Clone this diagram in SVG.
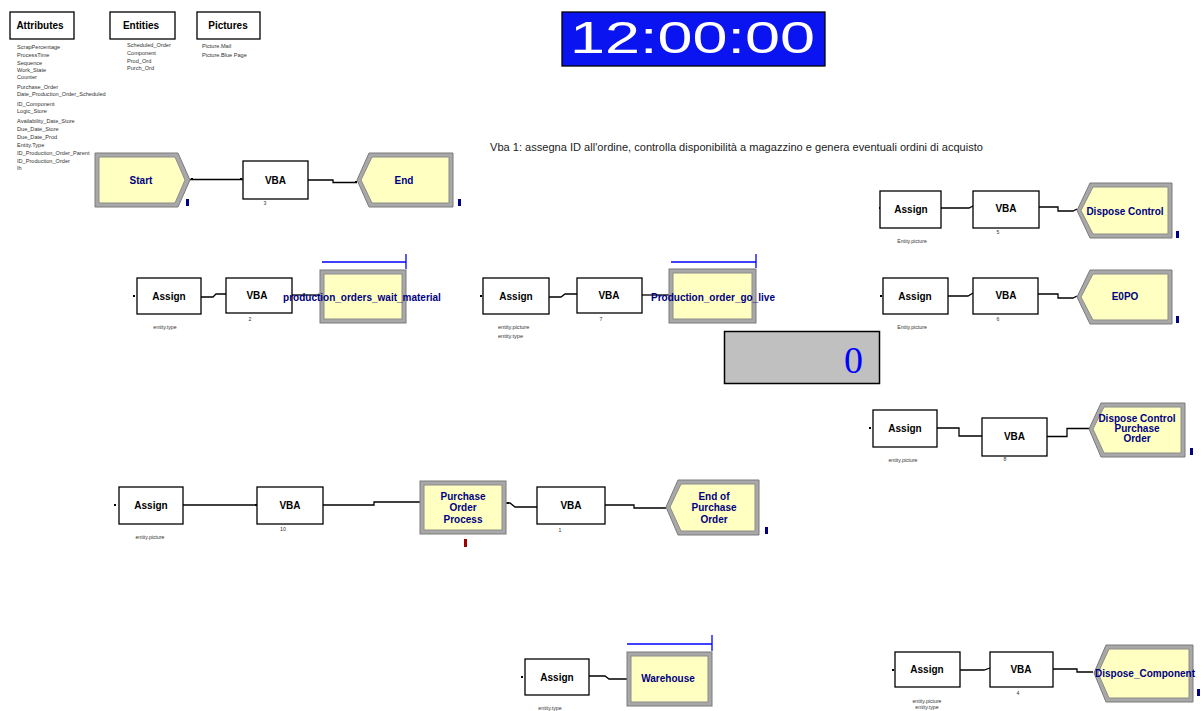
<svg xmlns="http://www.w3.org/2000/svg" width="1204" height="711" viewBox="0 0 1204 711">
  <style>
    .bg { fill: #ffffff; }
    .box { fill: #ffffff; stroke: #000000; stroke-width: 1.3; }
    .lbl { font-family: "Liberation Sans", Arial, sans-serif; font-size: 10px; font-weight: bold; fill: #000000; text-anchor: middle; }
    .mod-outer { fill: #a8a8a8; stroke: #7a7a7a; stroke-width: 1; }
    .mod-inner { fill: #ffffc2; stroke: #8c8c8c; stroke-width: 1; }
    .mlbl { font-family: "Liberation Sans", Arial, sans-serif; font-size: 10px; font-weight: bold; fill: #000080; text-anchor: middle; }
    .tiny { font-family: "Liberation Sans", Arial, sans-serif; font-size: 5.6px; fill: #333333; }
    .tinyc { font-family: "Liberation Sans", Arial, sans-serif; font-size: 5.2px; fill: #333333; text-anchor: middle; }
    .conn { fill: none; stroke: #000000; stroke-width: 1.3; }
    .queue { fill: none; stroke: #0000ff; stroke-width: 1.3; }
    .mark { fill: #000080; }
    .dot { fill: #000000; }
    .hdr { font-family: "Liberation Sans", Arial, sans-serif; font-size: 10px; font-weight: bold; fill: #000000; text-anchor: middle; }
  </style>

  <rect class="bg" x="0" y="0" width="1204" height="711"/>

  <!-- Element lists -->
  <g id="attributes">
    <rect class="box" x="10" y="12" width="64" height="27"/>
    <text class="hdr" x="40" y="29">Attributes</text>
    <text class="tiny" x="17" y="49">ScrapPercentage</text>
    <text class="tiny" x="17" y="57">ProcessTime</text>
    <text class="tiny" x="17" y="65">Sequence</text>
    <text class="tiny" x="17" y="72">Work_State</text>
    <text class="tiny" x="17" y="79">Counter</text>
    <text class="tiny" x="17" y="89">Purchase_Order</text>
    <text class="tiny" x="17" y="96">Date_Production_Order_Scheduled</text>
    <text class="tiny" x="17" y="106">ID_Component</text>
    <text class="tiny" x="17" y="113">Logic_Store</text>
    <text class="tiny" x="17" y="123">Availability_Date_Store</text>
    <text class="tiny" x="17" y="131">Due_Date_Store</text>
    <text class="tiny" x="17" y="139">Due_Date_Prod</text>
    <text class="tiny" x="17" y="147">Entity.Type</text>
    <text class="tiny" x="17" y="155">ID_Production_Order_Parent</text>
    <text class="tiny" x="17" y="163">ID_Production_Order</text>
    <text class="tiny" x="17" y="170">Ih</text>
  </g>

  <g id="entities">
    <rect class="box" x="110" y="12" width="65" height="27"/>
    <text class="hdr" x="141" y="29">Entities</text>
    <text class="tiny" x="127" y="47">Scheduled_Order</text>
    <text class="tiny" x="127" y="55">Component</text>
    <text class="tiny" x="127" y="63">Prod_Ord</text>
    <text class="tiny" x="127" y="70">Purch_Ord</text>
  </g>

  <g id="pictures">
    <rect class="box" x="197" y="12" width="63" height="27"/>
    <text class="hdr" x="228" y="29">Pictures</text>
    <text class="tiny" x="202" y="48">Picture.Mail</text>
    <text class="tiny" x="202" y="57">Picture.Blue Page</text>
  </g>

  <!-- Simulation clock -->
  <g id="clock">
    <rect x="562" y="12" width="263" height="54" fill="#0a14f0" stroke="#000000" stroke-width="1.3"/>
    <text x="570" y="53" font-family="'Liberation Sans', Arial, sans-serif" font-size="45" fill="#ffffff" textLength="245" lengthAdjust="spacingAndGlyphs">12:00:00</text>
  </g>

  <g id="note">
    <text x="490" y="151" font-family="'Liberation Sans', Arial, sans-serif" font-size="10" fill="#222222" textLength="493" lengthAdjust="spacingAndGlyphs">Vba 1: assegna ID all'ordine, controlla disponibilità a magazzino e genera eventuali ordini di acquisto</text>
  </g>

  <!-- Variable display -->
  <g id="counter">
    <rect x="724.5" y="331.5" width="155" height="52" fill="#c0c0c0" stroke="#000000" stroke-width="1.5"/>
    <text x="853.5" y="373" font-family="'Liberation Serif', 'Times New Roman', serif" font-size="38" fill="#0000ff" text-anchor="middle">0</text>
  </g>

  <!-- Connectors -->
  <g id="connectors">
    <path class="conn" d="M190,179.5 H243"/>
    <path class="conn" d="M308,180 H333 V182.5 H357"/>

    <path class="conn" d="M201,297 H213 L216,294 H226"/>
    <path class="conn" d="M292,295 H321"/>

    <path class="conn" d="M549,297 H561 L565,294 H577"/>
    <path class="conn" d="M642,295 H670"/>

    <path class="conn" d="M939,208 H969 L973,206"/>
    <path class="conn" d="M1039,207 H1058 V211 H1073 L1077,209"/>

    <path class="conn" d="M948,296 H968 L973,293"/>
    <path class="conn" d="M1038,294 H1058 V298 H1073 L1077,296"/>

    <path class="conn" d="M937,428 H959 V436 H982"/>
    <path class="conn" d="M1047,436.5 H1067 V428.5 H1090"/>

    <path class="conn" d="M183,505 H257"/>
    <path class="conn" d="M323,505 H374 V502 H420"/>
    <path class="conn" d="M506,503 H510 L515,507 H537"/>
    <path class="conn" d="M605,505 H634 V508 H666"/>

    <path class="conn" d="M589,676 H605 L609,679 H627"/>

    <path class="conn" d="M960,670 H984 L990,668"/>
    <path class="conn" d="M1053,669 H1077 V672 H1093"/>

    <!-- entry points -->
    <rect class="dot" x="191" y="178" width="2" height="2"/>
    <rect class="dot" x="240" y="178" width="2" height="2"/>
    <rect class="dot" x="355" y="181" width="2" height="2"/>
    <rect class="dot" x="133" y="295" width="2" height="2"/>
    <rect class="dot" x="480" y="295" width="2" height="2"/>
    <rect class="dot" x="879" y="207" width="2" height="2"/>
    <rect class="dot" x="880" y="295" width="2" height="2"/>
    <rect class="dot" x="869" y="427" width="2" height="2"/>
    <rect class="dot" x="114" y="504" width="2" height="2"/>
    <rect class="dot" x="255" y="504" width="2" height="2"/>
    <rect class="dot" x="507" y="502" width="2" height="2"/>
    <rect class="dot" x="521" y="676" width="2" height="2"/>
    <rect class="dot" x="892" y="669" width="2" height="2"/>
  </g>

  <!-- Row 1 -->
  <g id="start">
    <polygon class="mod-outer" points="95,153 178,153 190,180 178,207 95,207"/>
    <polygon class="mod-inner" points="99,157 175,157 185,180 175,203 99,203"/>
    <text class="mlbl" x="141" y="184">Start</text>
    <rect class="mark" x="186" y="199" width="3" height="7"/>
  </g>

  <g id="vba3">
    <rect class="box" x="243" y="161" width="65" height="38"/>
    <text class="lbl" x="275.5" y="184">VBA</text>
    <text class="tinyc" x="265" y="205">3</text>
  </g>

  <g id="end">
    <polygon class="mod-outer" points="369,153 453,153 453,207 369,207 357,180"/>
    <polygon class="mod-inner" points="372,157 449,157 449,203 372,203 361,180"/>
    <text class="mlbl" x="404" y="184">End</text>
    <rect class="mark" x="458" y="199" width="3" height="7"/>
  </g>

  <!-- Row 2, left -->
  <g id="assign-type">
    <rect class="box" x="137" y="278" width="64" height="36"/>
    <text class="lbl" x="169" y="300">Assign</text>
    <text class="tinyc" x="165" y="329">entity.type</text>
  </g>
  <g id="vba2">
    <rect class="box" x="226" y="278" width="66" height="35"/>
    <text class="lbl" x="257" y="299">VBA</text>
    <text class="tinyc" x="250" y="321">2</text>
  </g>
  <g id="hold-wait-material">
    <line class="queue" x1="322" y1="262" x2="406" y2="262"/>
    <line class="queue" x1="406" y1="254" x2="406" y2="269"/>
    <rect class="mod-outer" x="320" y="270" width="86" height="53"/>
    <rect class="mod-inner" x="324" y="274" width="78" height="45"/>
    <text class="mlbl" x="362" y="301">production_orders_wait_material</text>
  </g>

  <!-- Row 2, middle -->
  <g id="assign-picture-type">
    <rect class="box" x="483" y="278" width="66" height="36"/>
    <text class="lbl" x="516" y="300">Assign</text>
    <text class="tiny" x="498" y="329">entity.picture</text>
    <text class="tiny" x="498" y="338">entity.type</text>
  </g>
  <g id="vba7">
    <rect class="box" x="577" y="278" width="65" height="35"/>
    <text class="lbl" x="609" y="299">VBA</text>
    <text class="tinyc" x="601" y="321">7</text>
  </g>
  <g id="hold-go-live">
    <line class="queue" x1="671" y1="262" x2="756" y2="262"/>
    <line class="queue" x1="756" y1="254" x2="756" y2="268"/>
    <rect class="mod-outer" x="669" y="269" width="87" height="54"/>
    <rect class="mod-inner" x="673" y="273" width="79" height="46"/>
    <text class="mlbl" x="713" y="301">Production_order_go_live</text>
  </g>

  <!-- Right column -->
  <g id="assign-dispose-control">
    <rect class="box" x="880" y="191" width="61" height="37"/>
    <text class="lbl" x="911" y="213">Assign</text>
    <text class="tinyc" x="912" y="243">Entity.picture</text>
  </g>
  <g id="vba5">
    <rect class="box" x="973" y="191" width="66" height="37"/>
    <text class="lbl" x="1006" y="212">VBA</text>
    <text class="tinyc" x="998" y="234">5</text>
  </g>
  <g id="dispose-control">
    <polygon class="mod-outer" points="1090,183 1172,183 1172,238 1090,238 1077,210.5"/>
    <polygon class="mod-inner" points="1093,187 1168,187 1168,234 1093,234 1081,210.5"/>
    <text class="mlbl" x="1125" y="215">Dispose Control</text>
    <rect class="mark" x="1176" y="231" width="3" height="7"/>
  </g>

  <g id="assign-eopo">
    <rect class="box" x="883" y="278" width="65" height="36"/>
    <text class="lbl" x="915" y="300">Assign</text>
    <text class="tinyc" x="912" y="329">Entity.picture</text>
  </g>
  <g id="vba6">
    <rect class="box" x="973" y="278" width="65" height="36"/>
    <text class="lbl" x="1006" y="299">VBA</text>
    <text class="tinyc" x="998" y="321">6</text>
  </g>
  <g id="dispose-eopo">
    <polygon class="mod-outer" points="1090,270 1172,270 1172,324 1090,324 1077,297"/>
    <polygon class="mod-inner" points="1093,274 1168,274 1168,320 1093,320 1081,297"/>
    <text class="mlbl" x="1125" y="300">E0PO</text>
    <rect class="mark" x="1176" y="316" width="3" height="7"/>
  </g>

  <g id="assign-dcpo">
    <rect class="box" x="873" y="410" width="64" height="37"/>
    <text class="lbl" x="905" y="432">Assign</text>
    <text class="tinyc" x="903" y="462">entity.picture</text>
  </g>
  <g id="vba8">
    <rect class="box" x="982" y="418" width="65" height="38"/>
    <text class="lbl" x="1014.5" y="440">VBA</text>
    <text class="tinyc" x="1005" y="461">8</text>
  </g>
  <g id="dispose-control-po">
    <polygon class="mod-outer" points="1101,403 1185,403 1185,457 1101,457 1089,429"/>
    <polygon class="mod-inner" points="1104,407 1181,407 1181,453 1104,453 1093,429"/>
    <text class="mlbl" x="1137" y="422">Dispose Control</text>
    <text class="mlbl" x="1137" y="432">Purchase</text>
    <text class="mlbl" x="1137" y="442">Order</text>
    <rect class="mark" x="1190" y="448" width="3" height="7"/>
  </g>

  <!-- Row 4 -->
  <g id="assign-po">
    <rect class="box" x="119" y="487" width="64" height="37"/>
    <text class="lbl" x="151" y="509">Assign</text>
    <text class="tinyc" x="150" y="539">entity.picture</text>
  </g>
  <g id="vba10">
    <rect class="box" x="257" y="487" width="66" height="37"/>
    <text class="lbl" x="290" y="509">VBA</text>
    <text class="tinyc" x="283" y="531">10</text>
  </g>
  <g id="process-po">
    <rect class="mod-outer" x="420" y="481" width="86" height="53"/>
    <rect class="mod-inner" x="424" y="485" width="78" height="45"/>
    <text class="mlbl" x="463" y="500">Purchase</text>
    <text class="mlbl" x="463" y="511">Order</text>
    <text class="mlbl" x="463" y="523">Process</text>
    <rect x="464" y="539" width="3" height="8" fill="#a00000"/>
  </g>
  <g id="vba1">
    <rect class="box" x="537" y="487" width="68" height="37"/>
    <text class="lbl" x="571" y="509">VBA</text>
    <text class="tinyc" x="560" y="532">1</text>
  </g>
  <g id="dispose-end-po">
    <polygon class="mod-outer" points="678,480 759,480 759,535 678,535 666,507"/>
    <polygon class="mod-inner" points="681,484 755,484 755,531 681,531 670,507"/>
    <text class="mlbl" x="714" y="500">End of</text>
    <text class="mlbl" x="714" y="511">Purchase</text>
    <text class="mlbl" x="714" y="523">Order</text>
    <rect class="mark" x="765" y="527" width="3" height="7"/>
  </g>

  <!-- Row 5 -->
  <g id="assign-warehouse">
    <rect class="box" x="525" y="659" width="64" height="36"/>
    <text class="lbl" x="557" y="681">Assign</text>
    <text class="tinyc" x="550" y="710">entity.type</text>
  </g>
  <g id="hold-warehouse">
    <line class="queue" x1="627" y1="644" x2="712" y2="644"/>
    <line class="queue" x1="712" y1="635" x2="712" y2="651"/>
    <rect class="mod-outer" x="627" y="652" width="85" height="54"/>
    <rect class="mod-inner" x="631" y="656" width="77" height="46"/>
    <text class="mlbl" x="668" y="682">Warehouse</text>
  </g>

  <g id="assign-component">
    <rect class="box" x="895" y="652" width="65" height="35"/>
    <text class="lbl" x="927" y="673">Assign</text>
    <text class="tinyc" x="927" y="703">entity.picture</text>
    <text class="tinyc" x="927" y="709">entity.type</text>
  </g>
  <g id="vba4">
    <rect class="box" x="990" y="652" width="63" height="35"/>
    <text class="lbl" x="1021" y="673">VBA</text>
    <text class="tinyc" x="1018" y="695">4</text>
  </g>
  <g id="dispose-component">
    <polygon class="mod-outer" points="1106,645 1193,645 1193,702 1106,702 1094,673"/>
    <polygon class="mod-inner" points="1109,649 1189,649 1189,698 1109,698 1098,673"/>
    <text class="mlbl" x="1145" y="677">Dispose_Component</text>
    <rect class="mark" x="1197" y="689" width="3" height="7"/>
  </g>
</svg>
